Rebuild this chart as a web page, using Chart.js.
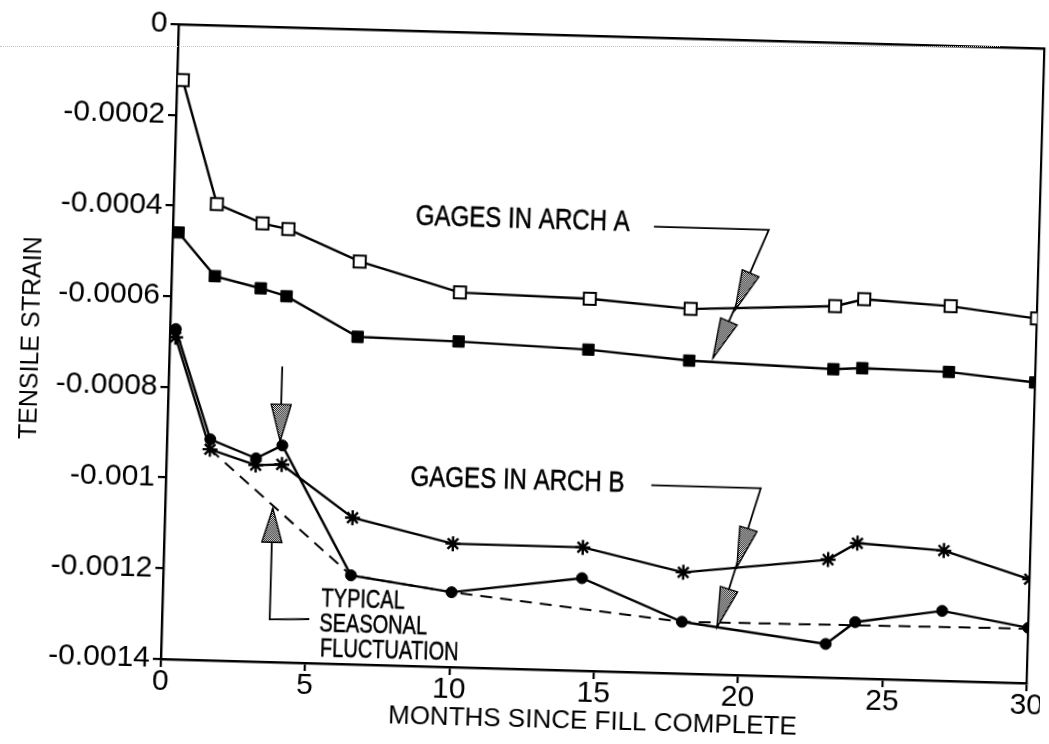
<!DOCTYPE html>
<html>
<head>
<meta charset="utf-8">
<title>Tensile strain vs months since fill complete</title>
<script src="https://cdn.jsdelivr.net/npm/chart.js@4.4.1/dist/chart.umd.min.js"></script>
<style>
  html, body { margin: 0; padding: 0; background: #fff; overflow: hidden; width: 1049px; height: 744px; }
  #wrap { position: relative; width: 1049px; height: 744px; }
  #chart { position: absolute; left: 0; top: 0; transform: rotate(1.6deg); transform-origin: 524.5px 372px; }
  #scanline { position: absolute; left: 0; top: 46px; width: 1000px; border-top: 1px dotted #c4c4c4; }
</style>
</head>
<body>
<div id="wrap">
  <canvas id="chart" width="1049" height="744"></canvas>
  <div id="scanline"></div>
</div>
<script>
// Reading times (months since fill complete)
const months = [0.2, 1.5, 3.1, 4.0, 6.5, 10, 14.5, 18, 23, 24, 27, 30];

// Arch A gages
const archA_open   = [-0.000123, -0.000394, -0.000434, -0.000445, -0.000512, -0.000574, -0.000580, -0.000596, -0.000581, -0.000564, -0.000574, -0.000596];
const archA_filled = [-0.000459, -0.000553, -0.000577, -0.000593, -0.000678, -0.000682, -0.000692, -0.000710, -0.000720, -0.000716, -0.000719, -0.000737];

// Arch B gages
const archB_star   = [-0.000690, -0.000935, -0.000967, -0.000964, -0.001077, -0.001128, -0.001128, -0.001177, -0.001140, -0.001102, -0.001113, -0.001171];
const archB_dot    = [-0.000672, -0.000913, -0.000952, -0.000922, -0.001204, -0.001235, -0.001196, -0.001286, -0.001326, -0.001276, -0.001246, -0.001278];

// Lower envelope (typical seasonal fluctuation trend)
const trendMonths = [1.5, 6.5, 10, 18, 30];
const trendStrain = [-0.000935, -0.001204, -0.001235, -0.001286, -0.001280];

// Axis ticks
const xTickValues = [0, 5, 10, 15, 20, 25, 30];
const xTickLabels = ['0', '5', '10', '15', '20', '25', '30'];
const yTickValues = [0, -0.0002, -0.0004, -0.0006, -0.0008, -0.001, -0.0012, -0.0014];
const yTickLabels = ['0', '-0.0002', '-0.0004', '-0.0006', '-0.0008', '-0.001', '-0.0012', '-0.0014'];

const FONT = '"Liberation Sans", Arial, Helvetica, sans-serif';
const toPoints = (xs, ys) => xs.map((m, i) => ({ x: m, y: ys[i] }));

// Callout annotations, placed in data coordinates
const callouts = [
  { text: 'GAGES IN ARCH A', at: [8.4, -0.000411], size: 29, squeeze: 0.83,
    path: [[16.65, -0.000417], [20.63, -0.000417], [18.82, -0.000703]],
    heads: [[19.54, -0.000596], [18.82, -0.000703]] },
  { text: 'GAGES IN ARCH B', at: [8.47, -0.000985], size: 29, squeeze: 0.83,
    path: [[16.81, -0.000987], [20.6, -0.000987], [19.22, -0.001296]],
    heads: [[19.85, -0.001162], [19.22, -0.001296]] }
];
const pointerArrows = [
  { path: [[3.92, -0.000748], [3.92, -0.000913]], len: 37, half: 10 },
  { path: [[5.10, -0.001303], [3.73, -0.001306], [3.73, -0.001061]], len: 34, half: 10 }
];
const noteLines = [
  { text: 'TYPICAL', at: [5.5, -0.001259] },
  { text: 'SEASONAL', at: [5.45, -0.001314] },
  { text: 'FLUCTUATION', at: [5.5, -0.001369] }
];

// Stippled fill used inside arrowheads
const stipple = (() => {
  const c = document.createElement('canvas');
  c.width = 2; c.height = 2;
  const g = c.getContext('2d');
  g.fillStyle = '#fff'; g.fillRect(0, 0, 2, 2);
  g.fillStyle = '#000'; g.fillRect(0, 0, 1, 1); g.fillRect(1, 1, 1, 1);
  return c;
})();

function drawHead(ctx, tx, ty, fx, fy, len, half) {
  const dx = tx - fx, dy = ty - fy, d = Math.hypot(dx, dy);
  const ux = dx / d, uy = dy / d;
  const bx = tx - ux * len, by = ty - uy * len;
  ctx.beginPath();
  ctx.moveTo(tx, ty);
  ctx.lineTo(bx - uy * half, by + ux * half);
  ctx.lineTo(bx + uy * half, by - ux * half);
  ctx.closePath();
  ctx.fillStyle = ctx.createPattern(stipple, 'repeat');
  ctx.fill();
  ctx.lineWidth = 1.4;
  ctx.strokeStyle = '#000';
  ctx.stroke();
}

function drawSqueezed(ctx, text, px, py, size, squeeze) {
  ctx.save();
  ctx.font = size + 'px ' + FONT;
  ctx.fillStyle = '#000';
  ctx.strokeStyle = '#000';
  ctx.lineWidth = 0.5;
  ctx.textAlign = 'left';
  ctx.textBaseline = 'middle';
  ctx.translate(px, py);
  ctx.scale(squeeze, 1);
  ctx.fillText(text, 0, 0);
  ctx.strokeText(text, 0, 0);
  ctx.restore();
}

const annotationPlugin = {
  id: 'strainNotes',
  afterDatasetsDraw(chart) {
    const { ctx, scales: { x, y } } = chart;
    const P = (p) => [x.getPixelForValue(p[0]), y.getPixelForValue(p[1])];
    ctx.save();
    ctx.lineCap = 'butt';
    ctx.lineJoin = 'miter';

    const polyline = (pts) => {
      ctx.beginPath();
      pts.forEach((p, i) => { const [px, py] = P(p); if (i === 0) ctx.moveTo(px, py); else ctx.lineTo(px, py); });
      ctx.lineWidth = 1.8;
      ctx.strokeStyle = '#000';
      ctx.stroke();
    };

    callouts.forEach(c => {
      const [tx, ty] = P(c.at);
      drawSqueezed(ctx, c.text, tx, ty, c.size, c.squeeze);
      polyline(c.path);
      const corner = P(c.path[c.path.length - 2]);
      c.heads.forEach(h => {
        const [hx, hy] = P(h);
        drawHead(ctx, hx, hy, corner[0], corner[1], 40, 9);
      });
    });

    pointerArrows.forEach(a => {
      polyline(a.path);
      const from = P(a.path[a.path.length - 2]);
      const tip = P(a.path[a.path.length - 1]);
      drawHead(ctx, tip[0], tip[1], from[0], from[1], a.len, a.half);
    });

    noteLines.forEach(n => {
      const [px, py] = P(n.at);
      drawSqueezed(ctx, n.text, px, py, 26, 0.77);
    });
    ctx.restore();
  }
};

const lineBase = { borderColor: '#000', borderWidth: 2.4, tension: 0, showLine: true, fill: false };

new Chart(document.getElementById('chart'), {
  type: 'scatter',
  data: {
    datasets: [
      { ...lineBase, label: 'Trend', data: toPoints(trendMonths, trendStrain),
        borderWidth: 2, borderDash: [12, 8], pointRadius: 0 },
      { ...lineBase, label: 'Arch A (open)', data: toPoints(months, archA_open),
        pointStyle: 'rect', pointRadius: 8.5, pointBackgroundColor: '#fff', pointBorderColor: '#000', pointBorderWidth: 2 },
      { ...lineBase, label: 'Arch A (filled)', data: toPoints(months, archA_filled),
        pointStyle: 'rect', pointRadius: 8, pointBackgroundColor: '#000', pointBorderColor: '#000', pointBorderWidth: 1 },
      { ...lineBase, label: 'Arch B (star)', data: toPoints(months, archB_star),
        pointStyle: 'star', pointRadius: 7.5, pointBackgroundColor: '#000', pointBorderColor: '#000', pointBorderWidth: 2.4 },
      { ...lineBase, label: 'Arch B (dot)', data: toPoints(months, archB_dot),
        pointStyle: 'circle', pointRadius: 5.5, pointBackgroundColor: '#000', pointBorderColor: '#000', pointBorderWidth: 1 }
    ]
  },
  options: {
    responsive: false,
    animation: false,
    devicePixelRatio: 1,
    layout: { padding: { left: 9, top: 34, right: 11, bottom: 0 } },
    plugins: { legend: { display: false }, tooltip: { enabled: false } },
    scales: {
      x: {
        type: 'linear', position: 'bottom', min: 0, max: 30,
        afterBuildTicks: s => { s.ticks = xTickValues.map(v => ({ value: v })); },
        afterFit: s => { s.height = 75; },
        ticks: { color: '#000', font: { family: FONT, size: 30 }, padding: -3, maxRotation: 0,
                 callback: (v) => xTickLabels[xTickValues.indexOf(v)] },
        grid: { display: true, drawOnChartArea: false, drawTicks: true, tickLength: 8, color: '#000', lineWidth: 2.2 },
        border: { display: true, color: '#000', width: 2.4 },
        title: { display: true, text: 'MONTHS SINCE FILL COMPLETE', color: '#000',
                 font: { family: FONT, size: 26 }, padding: { top: 9, bottom: 9 } }
      },
      y: {
        type: 'linear', position: 'left', min: -0.0014, max: 0,
        afterBuildTicks: s => { s.ticks = yTickValues.map(v => ({ value: v })); },
        afterFit: s => { s.width = 160; },
        ticks: { color: '#000', font: { family: FONT, size: 30 }, padding: 3,
                 callback: (v) => yTickLabels[Math.round(-v / 0.0002)] },
        grid: { display: true, drawOnChartArea: false, drawTicks: true, tickLength: 8, color: '#000', lineWidth: 2.2 },
        border: { display: true, color: '#000', width: 2.4 },
        title: { display: true, text: 'TENSILE STRAIN', color: '#000',
                 font: { family: FONT, size: 25 }, padding: { top: 7, bottom: 7 } }
      },
      x2: {
        type: 'linear', position: 'top', min: 0, max: 30,
        afterFit: s => { s.height = 0; },
        ticks: { display: false },
        grid: { display: true, drawOnChartArea: false, drawTicks: false, color: '#000', lineWidth: 2 },
        border: { display: true, color: '#000', width: 2.6 }
      },
      y2: {
        type: 'linear', position: 'right', min: -0.0014, max: 0,
        afterFit: s => { s.width = 0; },
        ticks: { display: false },
        grid: { display: true, drawOnChartArea: false, drawTicks: false, color: '#000', lineWidth: 2 },
        border: { display: true, color: '#000', width: 2.2 }
      }
    }
  },
  plugins: [annotationPlugin]
});
</script>
</body>
</html>
